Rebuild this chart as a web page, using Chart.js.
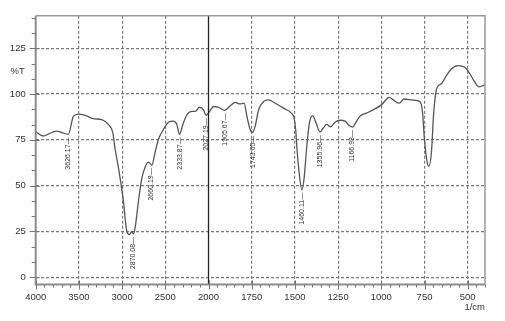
<!DOCTYPE html>
<html><head><meta charset="utf-8">
<script src="https://cdn.jsdelivr.net/npm/chart.js@4/dist/chart.umd.min.js"></script>
<style>html,body{margin:0;padding:0;background:#fff}#wrap{width:505px;height:321px;position:relative}</style>
</head><body><div id="wrap"><canvas id="c" width="505" height="321"></canvas></div>
<script>
// Spectrum (wavenumber in 1/cm, transmittance in %T)
const wavenumbers = [4000,3912,3860,3757,3700,3622,3564,3506,3429,3333,3235,3159,3108,3081,3043,3023,2985,2946,2915,2888,2869,2849,2811,2772,2733,2695,2656,2618,2579,2521,2463,2406,2367,2336,2297,2250,2192,2154,2104,2058,2027,1994,1971,1942,1907,1874,1845,1820,1794,1778,1759,1745,1730,1710,1682,1653,1614,1566,1518,1505,1495,1488,1476,1460,1447,1431,1416,1397,1378,1355,1335,1316,1293,1268,1239,1210,1186,1166,1147,1124,1086,1047,999,954,931,896,869,825,792,773,761,752,738,725,710,697,678,652,623,594,556,517,488,460,435,408,400];
const transmittance = [79.5,77.1,78.0,79.8,79.0,78.0,87.8,89.1,88.4,86.6,86.0,83.4,78.9,70.0,60.0,54.0,41.4,25.3,23.2,25.0,23.6,27.1,41.4,53.9,60.2,62.8,61.1,68.2,75.3,80.7,84.6,85.2,83.4,78.0,83.4,88.7,90.5,90.5,92.8,91.4,88.4,90.5,93.2,92.8,91.1,93.6,95.5,94.6,95.0,87.9,80.7,78.9,82.5,91.4,95.9,96.8,95.0,92.3,89.3,87.0,80.0,70.0,57.5,47.7,53.9,71.8,84.3,88.2,84.3,79.3,81.6,83.4,82.1,84.6,85.7,85.2,82.8,82.0,84.6,87.9,89.6,91.4,94.1,98.2,96.8,95.0,97.3,96.8,96.4,95.4,89.6,77.1,64.6,60.5,68.2,89.6,103.4,105.7,110.2,113.7,115.5,114.6,111.1,106.6,103.9,104.8,105.0];
const xTickLabels = [4000,3500,3000,2500,2000,1750,1500,1250,1000,750,500];
const yTickLabels = [0,25,50,75,100,125];
const peakLabels = ['3626.17','2870.08','2660.19','2333.87','2027.19','1905.67','1743.65','1460.11','1355.96','1166.93'];
const peakT = [78.0,23.6,61.1,78.0,88.4,91.1,78.9,47.7,79.3,82.0];

const BREAK = 2000; // scale changes by 2x above 2000 1/cm
function toAxis(w){ return w > BREAK ? BREAK + (w - BREAK) / 2 : w; }
function fromAxis(v){ return v > BREAK ? BREAK + (v - BREAK) * 2 : v; }

const points = wavenumbers.map((w, i) => ({x: toAxis(w), y: transmittance[i]}));
const FONT = '"Liberation Sans", Arial, sans-serif';

const decor = {
  id: 'decor',
  afterDraw(chart) {
    const ctx = chart.ctx, a = chart.chartArea;
    const xs = chart.scales.x, ys = chart.scales.y;
    ctx.save();
    // solid break line at 2000
    const xb = xs.getPixelForValue(toAxis(2000));
    ctx.strokeStyle = '#222'; ctx.lineWidth = 1.3;
    ctx.beginPath(); ctx.moveTo(xb, a.top); ctx.lineTo(xb, a.bottom); ctx.stroke();
    // frame
    ctx.strokeStyle = '#999'; ctx.lineWidth = 1.5;
    ctx.beginPath(); ctx.moveTo(a.left, a.top); ctx.lineTo(a.right, a.top); ctx.lineTo(a.right, a.bottom); ctx.stroke();
    ctx.strokeStyle = '#8c8c8c'; ctx.lineWidth = 2;
    ctx.beginPath(); ctx.moveTo(a.left, a.top); ctx.lineTo(a.left, a.bottom); ctx.lineTo(a.right, a.bottom); ctx.stroke();
    // x ticks
    ctx.strokeStyle = '#777'; ctx.lineWidth = 1;
    for (let v = 400; v <= 3000; v += 50) {
      const px = Math.round(xs.getPixelForValue(v)) + 0.5;
      const major = v % 250 === 0;
      ctx.beginPath();
      ctx.moveTo(px, major ? a.bottom - 4 : a.bottom);
      ctx.lineTo(px, a.bottom + (major ? 5 : 3));
      ctx.stroke();
    }
    // y ticks
    for (let k = 0; k * 25 / 3 <= ys.max; k++) {
      const val = k * 25 / 3;
      const py = Math.round(ys.getPixelForValue(val)) + 0.5;
      const major = k % 3 === 0;
      ctx.beginPath();
      ctx.moveTo(a.left - (major ? 6 : 4), py);
      ctx.lineTo(a.left + (major ? 4 : 0), py);
      ctx.stroke();
    }
    // axis titles
    ctx.fillStyle = '#333';
    ctx.font = '9.5px ' + FONT;
    ctx.textAlign = 'right'; ctx.textBaseline = 'middle';
    ctx.fillText('%T', a.left - 11, ys.getPixelForValue(112.5));
    ctx.fillText('1/cm', a.right, 307);
    // peak labels
    ctx.font = '7px ' + FONT;
    ctx.fillStyle = '#333';
    peakLabels.forEach((lab, i) => {
      const px = xs.getPixelForValue(toAxis(parseFloat(lab)));
      const py = ys.getPixelForValue(peakT[i]);
      ctx.save();
      ctx.translate(px, py + 3);
      ctx.rotate(-Math.PI / 2);
      ctx.textAlign = 'right'; ctx.textBaseline = 'middle';
      ctx.fillText(lab + '\u2014', 0, 0);
      ctx.restore();
    });
    ctx.restore();
  }
};

new Chart(document.getElementById('c'), {
  type: 'line',
  data: { datasets: [{
    data: points,
    borderColor: '#555',
    borderWidth: 1.3,
    pointRadius: 0,
    fill: false,
    cubicInterpolationMode: 'monotone'
  }]},
  options: {
    responsive: false,
    animation: false,
    devicePixelRatio: 1,
    layout: { padding: { left: 0, right: 20, top: 11, bottom: 0 } },
    plugins: { legend: { display: false }, tooltip: { enabled: false } },
    scales: {
      x: {
        type: 'linear', reverse: true, min: 400, max: 3000,
        afterBuildTicks(s) { s.ticks = xTickLabels.map(w => ({ value: toAxis(w) })); },
        afterFit(s) { s.height = 36.5; },
        ticks: {
          autoSkip: false, maxRotation: 0, padding: 7, color: '#333',
          font: { family: FONT, size: 9.5 },
          callback: v => String(fromAxis(v))
        },
        grid: {
          drawTicks: false, lineWidth: 1.2,
          color: c => (c.tick && (c.tick.value === 3000 || c.tick.value === 2000 || c.tick.value === 400)) ? 'rgba(0,0,0,0)' : '#7a7a7a'
        },
        border: { display: false, dash: [3, 2] }
      },
      y: {
        type: 'linear', min: -4, max: 142.8,
        afterBuildTicks(s) { s.ticks = yTickLabels.map(v => ({ value: v })); },
        afterFit(s) { s.width = 35.7; },
        ticks: {
          padding: 10, color: '#333',
          font: { family: FONT, size: 9.5 },
          callback: v => String(v)
        },
        grid: { drawTicks: false, lineWidth: 1.2, color: '#7a7a7a' },
        border: { display: false, dash: [3, 2] }
      }
    }
  },
  plugins: [decor]
});
</script>
</body></html>
